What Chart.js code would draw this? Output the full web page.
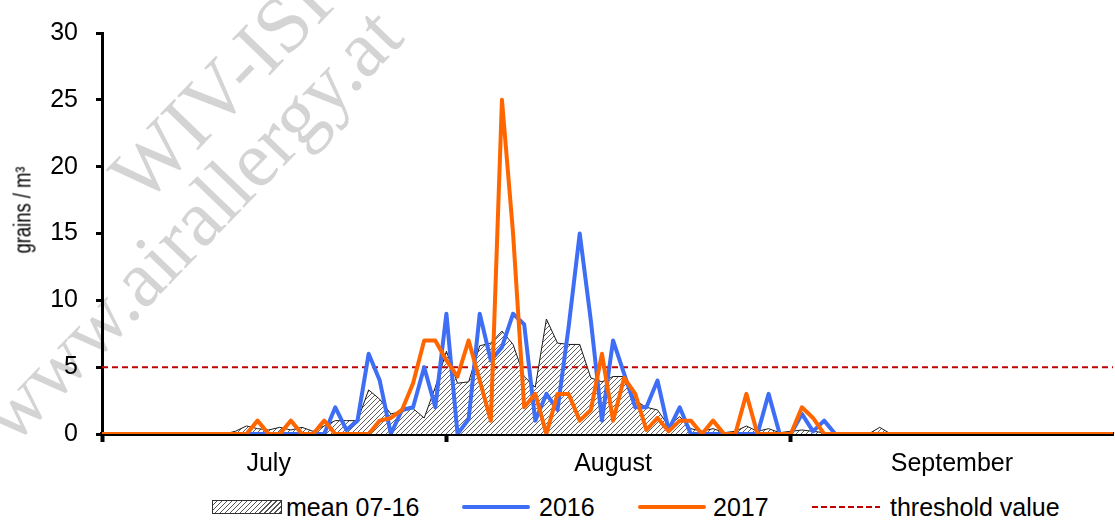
<!DOCTYPE html>
<html lang="en">
<head>
<meta charset="utf-8">
<title>Pollen season 2016 / 2017</title>
<script src="https://cdn.jsdelivr.net/npm/chart.js@4.4.1/dist/chart.umd.min.js"></script>
<style>
  html, body { margin: 0; padding: 0; background: #fff; }
  body {
    position: relative; width: 1115px; height: 524px; overflow: hidden;
    font-family: "Liberation Sans", Arial, sans-serif; color: #000;
  }
  .mark {
    position: absolute; transform-origin: 0 0; transform: rotate(-46deg);
    font-family: "Liberation Serif", "DejaVu Serif", serif; color: #d4d4d4;
    white-space: nowrap; line-height: 1;
  }
  #chartBox { position: absolute; left: 0; top: 0; width: 1115px; height: 480px; }
  #yTitle {
    position: absolute; left: 23px; top: 210px; font-size: 23px; white-space: nowrap;
    transform: translate(-50%, -50%) rotate(-90deg) scaleX(0.8);
  }
  .key { position: absolute; top: 493px; height: 28px; line-height: 28px; font-size: 25px; white-space: nowrap; }
  .swatch { position: absolute; }
  .hatch {
    border: 1px solid #333; box-sizing: border-box;
    background: repeating-linear-gradient(135deg, #fff 0 2.5px, #555 2.5px 3.5px);
  }
</style>
</head>
<body>
  <div class="mark" style="left:95px; top:160px; font-size:80px;">WIV-ISP</div>
  <div class="mark" style="left:-35px; top:400px; font-size:80px;">www.airallergy.at</div>

  <div id="chartBox"><canvas id="pollenChart"></canvas></div>
  <div id="yTitle">grains / m³</div>

  <div class="swatch hatch" style="left:212px; top:500px; width:70px; height:14px;"></div>
  <div class="key" style="left:286px;">mean 07-16</div>
  <div class="swatch" style="left:462px; top:505px; width:68px; height:4px; border-radius:2px; background:#3d6ef5;"></div>
  <div class="key" style="left:539px;">2016</div>
  <div class="swatch" style="left:638px; top:505px; width:68px; height:4px; border-radius:2px; background:#ff6600;"></div>
  <div class="key" style="left:713px;">2017</div>
  <div class="swatch" style="left:812px; top:506px; width:68px; height:2px; background:repeating-linear-gradient(90deg, #c00000 0 6px, transparent 6px 9px);"></div>
  <div class="key" style="left:890px;">threshold value</div>

<script>
  // days from 1 July (index 0) to 30 September (index 91)
  const dayIndex = Array.from({ length: 92 }, (_, i) => i);

  const monthNames = ["July", "August", "September"];
  const monthStart = [0, 31, 62];
  const monthDays = [31, 31, 30];
  const yTicks = [0, 5, 10, 15, 20, 25, 30];
  const thresholdValue = 5;

  // mean 2007-2016, grains / m³
  const mean0716 = [
    0, 0, 0, 0, 0, 0, 0, 0, 0, 0,
    0, 0, 0.2, 0.6, 0.4, 0.3, 0.5, 0.3, 0.5, 0.2,
    0.6, 1.0, 1.0, 1.0, 3.3, 2.6, 1.5, 1.7, 1.9, 1.2,
    3.5, 6.2, 3.8, 3.9, 6.6, 6.8, 7.7, 6.7, 4.3, 3.5,
    8.6, 6.8, 6.7, 6.7, 4.2, 3.9, 4.3, 4.3, 2.5, 2.0,
    1.8, 0.6, 1.3, 0.4, 0.2, 0.4, 0.1, 0.2, 0.6, 0.2,
    0.4, 0.1, 0.2, 0.3, 0.2, 0.1, 0, 0, 0, 0,
    0.5, 0, 0, 0, 0, 0, 0, 0, 0, 0,
    0, 0, 0, 0, 0, 0, 0, 0, 0, 0,
    0, 0
  ];

  const y2016 = [
    0, 0, 0, 0, 0, 0, 0, 0, 0, 0,
    0, 0, 0, 0, 0, 0, 0, 0, 0, 0,
    0, 2, 0.3, 1, 6, 4, 0, 1.8, 2, 5,
    2, 9, 0, 1.1, 9, 5.5, 6.5, 9, 8.2, 1,
    3, 1.8, 8, 15, 8.5, 1, 7, 4.5, 2, 2,
    4, 0.3, 2, 0, 0, 0, 0, 0, 0, 0,
    3, 0, 0, 1.5, 0.2, 1, 0, 0, 0, 0,
    0, 0, 0, 0, 0, 0, 0, 0, 0, 0,
    0, 0, 0, 0, 0, 0, 0, 0, 0, 0,
    0, 0
  ];

  const y2017 = [
    0, 0, 0, 0, 0, 0, 0, 0, 0, 0,
    0, 0, 0, 0, 1, 0, 0, 1, 0, 0,
    1, 0, 0, 0, 0, 1, 1.2, 1.8, 3.8, 7,
    7, 5.5, 4.3, 7, 4, 1, 25, 15, 2, 3,
    0, 3, 3, 1, 1.8, 6, 1, 4.2, 3, 0.3,
    1.2, 0.2, 1, 1, 0, 1, 0, 0, 3, 0,
    0, 0, 0, 2, 1.2, 0, 0, 0, 0, 0,
    0, 0, 0, 0, 0, 0, 0, 0, 0, 0,
    0, 0, 0, 0, 0, 0, 0, 0, 0, 0,
    0, 0
  ];

  const palette = {
    ink: "#000000",
    line: "#1a1a1a",
    blue: "#3d6ef5",
    orange: "#ff6600",
    red: "#c00000"
  };

  function makeHatch() {
    const c = document.createElement("canvas");
    c.width = 5;
    c.height = 5;
    const g = c.getContext("2d");
    g.fillStyle = "#ffffff";
    g.fillRect(0, 0, 5, 5);
    g.strokeStyle = "#4d4d4d";
    g.lineWidth = 0.9;
    g.beginPath();
    g.moveTo(0, 5); g.lineTo(5, 0);
    g.moveTo(-1, 1); g.lineTo(1, -1);
    g.moveTo(4, 6); g.lineTo(6, 4);
    g.stroke();
    return g.createPattern(c, "repeat");
  }

  const points = values => values.map((v, i) => ({ x: dayIndex[i], y: v }));
  const monthMid = monthStart.map((s, i) => s + (monthDays[i] - 1) / 2);
  const lastDay = dayIndex[dayIndex.length - 1];

  Chart.defaults.font.family = "\"Liberation Sans\", Arial, sans-serif";
  Chart.defaults.color = palette.ink;
  Chart.defaults.animation = false;

  new Chart(document.getElementById("pollenChart"), {
    type: "line",
    data: {
      datasets: [
        {
          label: "mean 07-16",
          data: points(mean0716),
          borderColor: palette.line,
          borderWidth: 1,
          backgroundColor: makeHatch(),
          fill: "origin",
          pointRadius: 0,
          tension: 0,
          order: 4
        },
        {
          label: "threshold value",
          data: [{ x: dayIndex[0], y: thresholdValue }, { x: lastDay, y: thresholdValue }],
          borderColor: palette.red,
          borderWidth: 2,
          borderDash: [6, 4],
          pointRadius: 0,
          fill: false,
          order: 3
        },
        {
          label: "2016",
          data: points(y2016),
          borderColor: palette.blue,
          borderWidth: 4,
          borderJoinStyle: "round",
          borderCapStyle: "round",
          pointRadius: 0,
          fill: false,
          tension: 0,
          order: 2
        },
        {
          label: "2017",
          data: points(y2017),
          borderColor: palette.orange,
          borderWidth: 4,
          borderJoinStyle: "round",
          borderCapStyle: "round",
          pointRadius: 0,
          fill: false,
          tension: 0,
          order: 1
        }
      ]
    },
    options: {
      responsive: true,
      maintainAspectRatio: false,
      layout: { padding: { top: 22, right: 2, left: 0, bottom: 0 } },
      plugins: {
        legend: { display: false },
        tooltip: { enabled: false }
      },
      scales: {
        x: {
          type: "linear",
          min: dayIndex[0],
          max: lastDay,
          afterBuildTicks: scale => {
            scale.ticks = monthStart.concat(monthMid)
              .sort((a, b) => a - b)
              .map(v => ({ value: v }));
          },
          afterFit: scale => { scale.height = 46; },
          ticks: {
            autoSkip: false,
            maxRotation: 0,
            padding: 7,
            color: palette.ink,
            font: { size: 25 },
            callback: v => {
              const i = monthMid.indexOf(v);
              return i >= 0 ? monthNames[i] : "";
            }
          },
          grid: {
            drawOnChartArea: false,
            tickLength: 8,
            tickWidth: 4,
            tickColor: ctx => ctx.tick && monthStart.includes(ctx.tick.value) ? palette.ink : "rgba(0,0,0,0)"
          },
          border: { color: palette.ink, width: 4 }
        },
        y: {
          min: yTicks[0],
          max: yTicks[yTicks.length - 1],
          afterBuildTicks: scale => {
            scale.ticks = yTicks.map(v => ({ value: v }));
          },
          afterFit: scale => { scale.width = 102; },
          ticks: {
            padding: 18,
            color: palette.ink,
            font: { size: 25 }
          },
          grid: {
            drawOnChartArea: false,
            tickLength: 6,
            tickWidth: 3,
            tickColor: palette.ink
          },
          border: { color: palette.ink, width: 3 }
        }
      }
    }
  });
</script>
</body>
</html>
